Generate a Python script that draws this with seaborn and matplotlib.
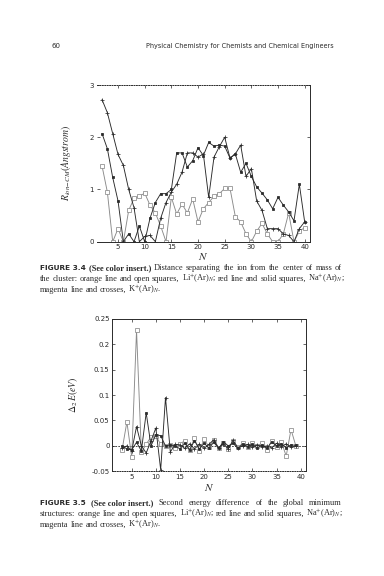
import matplotlib
matplotlib.use("Agg")
import matplotlib.pyplot as plt
import matplotlib.ticker as mticker
import pandas as pd
import seaborn as sns

# Figure 3.4: distance ion - centre of mass, N = 2..40
n_dist = list(range(2, 41))
li_dist = [1.45, 0.95, 0.0, 0.25, 0.0, 0.6, 0.83, 0.87, 0.93, 0.7, 0.55, 0.3, 0.0,
           0.85, 0.53, 0.72, 0.55, 0.82, 0.38, 0.63, 0.75, 0.87, 0.92, 1.02, 1.02,
           0.48, 0.38, 0.15, 0.0, 0.2, 0.35, 0.15, 0.0, 0.0, 0.15, 0.55, 0.0, 0.2, 0.27]
na_dist = [2.07, 1.78, 1.23, 0.78, 0.0, 0.15, 0.0, 0.3, 0.0, 0.45, 0.75, 0.92, 0.92,
           1.0, 1.7, 1.7, 1.43, 1.55, 1.8, 1.65, 1.9, 1.83, 1.85, 1.83, 1.6,
           1.68, 1.33, 1.5, 1.25, 1.05, 0.93, 0.8, 0.63, 0.85, 0.7, 0.57, 0.4, 1.1, 0.38]
k_dist = [2.72, 2.47, 2.07, 1.67, 1.46, 1.0, 0.65, 0.0, 0.1, 0.12, 0.0, 0.45, 0.75,
          0.95, 1.1, 1.33, 1.7, 1.7, 1.62, 1.68, 0.85, 1.62, 1.82, 2.0, 1.6,
          1.68, 1.85, 1.25, 1.4, 0.78, 0.6, 0.25, 0.25, 0.25, 0.15, 0.12, 0.0, 0.25, 0.38]

# Figure 3.5: second energy difference, N = 3..39
n_de = list(range(3, 40))
li_de = [-0.008, 0.047, -0.022, 0.227, -0.012, 0.003, 0.018, 0.02, 0.003, 0.0, 0.002,
         -0.004, 0.004, 0.01, -0.008, 0.015, -0.01, 0.013, -0.002, 0.012, -0.005, 0.006,
         -0.007, 0.01, -0.003, 0.005, -0.003, 0.006, -0.001, 0.006, -0.008, 0.01, -0.002,
         0.008, -0.02, 0.032, 0.0]
na_de = [0.0, -0.006, -0.008, 0.007, -0.01, 0.065, 0.0, 0.022, 0.02, 0.0, 0.002,
         0.0, -0.006, 0.005, -0.008, 0.01, -0.006, 0.005, -0.004, 0.007, -0.005, 0.008,
         0.0, 0.005, -0.005, 0.004, -0.002, 0.003, -0.004, 0.002, -0.005, 0.008, 0.0,
         0.004, -0.004, 0.002, 0.001]
k_de = [-0.005, 0.0, -0.01, 0.038, 0.0, -0.014, 0.01, 0.035, -0.047, 0.095, -0.012,
        0.003, 0.002, -0.005, 0.004, -0.006, 0.003, -0.005, 0.003, 0.012, -0.004, 0.004,
        -0.006, 0.011, -0.004, 0.0, 0.003, -0.003, 0.002, -0.002, 0.0, -0.004, 0.005,
        -0.002, 0.004, -0.003, 0.0]

sns.set_style("ticks")
plt.rcParams["font.family"] = ["Liberation Serif", "DejaVu Serif"]
plt.rcParams["mathtext.fontset"] = "stix"

ink = "#2a2a2a"
gray = "#8a8a8a"

W, H = 384, 576
fig = plt.figure(figsize=(3.84, 5.76), dpi=100)
renderer = fig.canvas.get_renderer()

# page header
fig.text(52 / W, 1 - 46 / H, "60", fontsize=5, color=ink, family="DejaVu Sans",
         va="center")
fig.text(240 / W, 1 - 46 / H, "Physical Chemistry for Chemists and Chemical Engineers",
         fontsize=4.7, color=ink, family="DejaVu Sans", ha="center", va="center")


def draw_series(ax, x, y, color, marker, mfc, ms):
    df = pd.DataFrame({"N": x, "v": y})
    sns.lineplot(data=df, x="N", y="v", ax=ax, color=color, lw=0.65,
                 marker=marker, markersize=ms, markerfacecolor=mfc,
                 markeredgecolor=color, markeredgewidth=0.55)


def style_axes(ax):
    ax.set_xlim(1, 41)
    ax.set_xticks([5, 10, 15, 20, 25, 30, 35, 40])
    ax.tick_params(direction="in", length=2, width=0.5, labelsize=5, pad=2,
                   colors=ink, top=True, right=True)
    for lab in ax.get_xticklabels() + ax.get_yticklabels():
        lab.set_family("DejaVu Sans")
    for sp in ax.spines.values():
        sp.set_linewidth(0.7)
        sp.set_color(ink)
    ax.set_xlabel(r"$N$", fontsize=8, color=ink)


SIZE = 6.0


def text_line(y_px, tokens, justify=True, x0=40, x1=342):
    # lay out words one after another; spread them to the margins when justified
    y = 1 - y_px / H
    objs = []
    for word, kw in tokens:
        style = dict(fontsize=SIZE, color=ink, va="baseline")
        style.update(kw)
        objs.append(fig.text(x0 / W, y, word, **style))
    widths = [t.get_window_extent(renderer).width for t in objs]
    gap = 2.0
    if justify and len(objs) > 1:
        gap = max(gap, (x1 - x0 - sum(widths)) / (len(objs) - 1))
    x = x0
    for t, w in zip(objs, widths):
        t.set_x(x / W)
        x += w + gap


def words(s):
    return [(w, {}) for w in s.split(" ")]


bold_sans = {"fontweight": "bold", "family": "DejaVu Sans", "fontsize": SIZE - 0.7}
bold_serif = {"fontweight": "bold"}
li = r"Li$^{+}$(Ar)$_{N}$;"
na = r"Na$^{+}$(Ar)$_{N}$;"
k = r"K$^{+}$(Ar)$_{N}$."

# ---- Figure 3.4
ax1 = fig.add_axes([96.7 / W, 1 - 241.7 / H, 213.3 / W, 156.7 / H])
draw_series(ax1, n_dist, li_dist, gray, "s", "white", 2.4)
draw_series(ax1, n_dist, na_dist, ink, "s", ink, 1.9)
draw_series(ax1, n_dist, k_dist, ink, "+", ink, 3.4)
ax1.set_ylim(0, 3)
ax1.set_yticks([0, 1, 2, 3])
style_axes(ax1)
ax1.spines["top"].set_linestyle((0, (1, 1.5)))
ax1.spines["left"].set_visible(False)
ax1.set_ylabel(r"$R_{ion\mathrm{-}CM}(Angstrom)$", fontsize=7, color=ink)
ax1.yaxis.set_label_coords(-0.11, 0.5)
ax1.xaxis.set_label_coords(0.5, -0.062)

text_line(270, [("FIGURE 3.4", bold_sans), ("(See color insert.)", bold_serif)]
          + words("Distance separating the ion from the center of mass of"))
text_line(281, words("the cluster: orange line and open squares,") + [(li, {})]
          + words("red line and solid squares,") + [(na, {})])
text_line(292, words("magenta line and crosses,") + [(k, {})], justify=False)

# ---- Figure 3.5
ax2 = fig.add_axes([112.4 / W, 1 - 471.3 / H, 193.1 / W, 152.6 / H])
ax2.axhline(0, color=ink, lw=0.6, ls=(0, (2, 1.5)))
draw_series(ax2, n_de, li_de, gray, "s", "white", 2.2)
draw_series(ax2, n_de, na_de, ink, "s", ink, 1.7)
draw_series(ax2, n_de, k_de, ink, "+", ink, 3.1)
ax2.set_ylim(-0.05, 0.25)
ax2.set_yticks([-0.05, 0, 0.05, 0.1, 0.15, 0.2, 0.25])
ax2.yaxis.set_major_formatter(mticker.FormatStrFormatter("%g"))
style_axes(ax2)
ax2.spines["bottom"].set_linestyle((0, (1, 1.5)))
ax2.set_ylabel(r"$\Delta_2\,E(eV)$", fontsize=7, color=ink)
ax2.yaxis.set_label_coords(-0.17, 0.5)
ax2.xaxis.set_label_coords(0.5, -0.07)

text_line(505, [("FIGURE 3.5", bold_sans), ("(See color insert.)", bold_serif)]
          + words("Second energy difference of the global minimum"))
text_line(516, words("structures: orange line and open squares,") + [(li, {})]
          + words("red line and solid squares,") + [(na, {})])
text_line(527, words("magenta line and crosses,") + [(k, {})], justify=False)

fig.savefig("out.png", dpi=100, facecolor="white")
